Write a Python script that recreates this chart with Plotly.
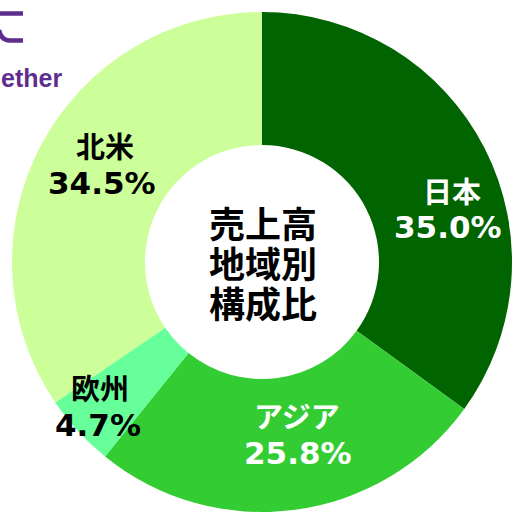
import plotly.graph_objects as go

regions = ["日本", "アジア", "欧州", "北米"]
shares = [35.0, 25.8, 4.7, 34.5]
colors = ["#006400", "#33CC33", "#66FF99", "#CCFF99"]
label_colors = ["white", "white", "black", "black"]
center_lines = ["売上高", "地域別", "構成比"]

W = H = 513
FONT = "DejaVu Sans, Noto Sans CJK JP, sans-serif"
CJK = "Noto Sans CJK JP, DejaVu Sans, sans-serif"


def px(x):
    return x / W


def py(y):
    return (H - y) / H


fig = go.Figure(go.Pie(
    labels=regions,
    values=shares,
    sort=False,
    direction="clockwise",
    rotation=0,
    hole=0.468,
    marker=dict(colors=colors, line=dict(width=0)),
    textinfo="none",
    hoverinfo="label+percent",
    showlegend=False,
    domain=dict(x=[px(12), px(512)], y=[py(512), py(12)]),
))

# label positions (pixel centres of the two text lines)
label_pos = {
    "日本": ((452, 190), (448, 227)),
    "アジア": ((297, 415), (298, 453)),
    "欧州": ((100, 387), (98, 425)),
    "北米": ((105, 145), (102, 183)),
}

ann = []
for name, val, col in zip(regions, shares, label_colors):
    (x1, y1), (x2, y2) = label_pos[name]
    ann.append(dict(x=px(x1), y=py(y1), xref="paper", yref="paper", text=f"<b>{name}</b>",
                    showarrow=False, font=dict(family=CJK, size=29, color=col),
                    xanchor="center", yanchor="middle"))
    ann.append(dict(x=px(x2), y=py(y2), xref="paper", yref="paper", text=f"<b>{val:.1f}%</b>",
                    showarrow=False, font=dict(family=FONT, size=31, color=col),
                    xanchor="center", yanchor="middle"))

for i, line in enumerate(center_lines):
    ann.append(dict(x=px(263), y=py(222 + 40 * i), xref="paper", yref="paper",
                    text=f"<b>{line}</b>", showarrow=False,
                    font=dict(family=CJK, size=36, color="black"),
                    xanchor="center", yanchor="middle"))

# partial logo text
ann.append(dict(x=px(-1), y=py(78), xref="paper", yref="paper", text="<b>ether</b>",
                showarrow=False, font=dict(family="Liberation Sans, Arial, sans-serif", size=25,
                                           color="#5E2D8E"),
                xanchor="left", yanchor="middle"))

logo_path = (f"M {px(23)},{py(13.5)} L {px(-2)},{py(13.5)} "
             f"M {px(-1)},{py(30)} Q {px(1)},{py(40.5)} {px(10)},{py(40.5)} L {px(23)},{py(40.5)}")

fig.update_layout(
    width=W, height=H,
    margin=dict(l=0, r=0, t=0, b=0),
    paper_bgcolor="white",
    plot_bgcolor="white",
    annotations=ann,
    shapes=[dict(type="path", xref="paper", yref="paper", path=logo_path,
                 line=dict(color="#5E2D8E", width=4.5))],
)

fig.write_html(
    "out.html",
    config={"displayModeBar": False},
    post_script="document.body.style.margin='0';document.body.style.overflow='hidden';",
)
